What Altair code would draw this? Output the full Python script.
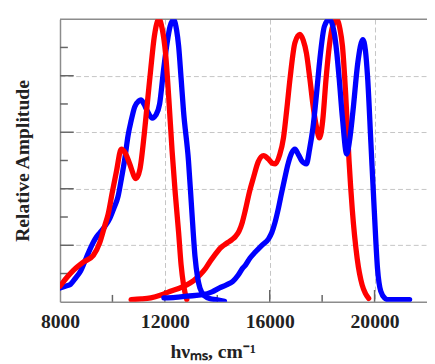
import altair as alt
import pandas as pd

# ---- data ----
red1_x = [8000, 8300, 8520, 8900, 9270, 9520, 9710, 9837, 10000, 10150, 10338, 10500, 10650, 10900,
          11050, 11213, 11350, 11462, 11600, 11775, 11900, 12025, 12150, 12275, 12400, 12525, 12620,
          12713, 12837]
red1_y = [0.055, 0.09, 0.112, 0.141, 0.164, 0.21, 0.27, 0.31, 0.39, 0.46, 0.54, 0.525, 0.49, 0.436,
          0.47, 0.593, 0.72, 0.824, 0.94, 1.0, 0.965, 0.88, 0.72, 0.535, 0.38, 0.245, 0.13,
          0.06, 0.008]

blue1_x = [8000, 8200, 8400, 8600, 8775, 9000, 9150, 9337, 9525, 9700, 9900, 10050, 10212, 10350,
           10462, 10600, 10712, 10850, 11000, 11087, 11200, 11337, 11525, 11650, 11800, 11950, 12087,
           12200, 12337, 12450, 12525, 12620, 12712, 12900, 13025, 13150, 13250, 13337, 13525, 13750,
           13962, 14275]
blue1_y = [0.049, 0.055, 0.062, 0.085, 0.107, 0.155, 0.1875, 0.222, 0.245, 0.265, 0.295, 0.33, 0.372,
           0.44, 0.5, 0.59, 0.64, 0.69, 0.71, 0.714, 0.70, 0.674, 0.65, 0.66, 0.70, 0.82, 0.917,
           0.975, 0.998, 0.96, 0.905, 0.79, 0.674, 0.5, 0.326, 0.16, 0.085, 0.049, 0.02, 0.01,
           0.008, 0.002]

red2_x = [10712, 11100, 11462, 11850, 12212, 12550, 12837, 13100, 13337, 13550, 13712, 13900, 14087,
          14250, 14400, 14560, 14700, 14830, 14950, 15075, 15230, 15387, 15560, 15762, 15950, 16100,
          16212, 16380, 16525, 16650, 16775, 16962, 17150, 17280, 17400, 17530, 17650, 17780, 17900,
          18020, 18150, 18280, 18400, 18560, 18680, 18775, 18900, 19025, 19150, 19337, 19525, 19650,
          19775]
red2_y = [0.008, 0.01, 0.014, 0.024, 0.037, 0.048, 0.06, 0.075, 0.095, 0.118, 0.141, 0.165, 0.1875,
          0.20, 0.21, 0.22, 0.232, 0.25, 0.28, 0.326, 0.39, 0.442, 0.495, 0.517, 0.505, 0.49,
          0.488, 0.52, 0.58, 0.68, 0.79, 0.917, 0.946, 0.925, 0.88, 0.79, 0.697, 0.62, 0.58,
          0.64, 0.79, 0.91, 0.975, 0.998, 0.965, 0.905, 0.73, 0.5, 0.326, 0.153, 0.06, 0.03,
          0.012]

blue2_x = [11962, 12400, 12837, 13450, 13800, 14087, 14350, 14587, 14800, 14962, 15075, 15250, 15450,
           15700, 15950, 16080, 16200, 16330, 16450, 16580, 16700, 16830, 16962, 17100, 17212, 17400,
           17520, 17650, 17780, 17900, 18087, 18275, 18462, 18560, 18650, 18775, 18937, 19060, 19175,
           19362, 19550, 19650, 19737, 19862, 19987, 20112, 20237, 20400, 20487, 21337]
blue2_y = [0.014, 0.016, 0.02, 0.025, 0.035, 0.049, 0.06, 0.072, 0.095, 0.118, 0.13, 0.155, 0.176,
           0.2, 0.222, 0.245, 0.28, 0.33, 0.384, 0.44, 0.488, 0.525, 0.54, 0.52, 0.5, 0.488,
           0.54, 0.616, 0.73, 0.847, 0.975, 1.0, 0.951, 0.88, 0.79, 0.65, 0.523, 0.58, 0.674,
           0.847, 0.928, 0.89, 0.79, 0.558, 0.326, 0.118, 0.037, 0.012, 0.008, 0.008]

x_labels = [8000, 12000, 16000, 20000]
x_major_ticks = [12000, 16000, 20000]
x_minor_ticks = [10000, 14000, 18000]
y_grid = [0.2, 0.4, 0.6, 0.8]
y_major_ticks = [0.2, 0.4, 0.6, 0.8]
y_minor_ticks = [0.1, 0.3, 0.5, 0.7, 0.9]

# ---- build tables ----
def table(xs, ys):
    return pd.DataFrame({"wn": xs, "amp": ys})

W, H = 374, 288
FONT = "Liberation Serif"
AXIS_GRAY = "#8c8c8c"

xscale = alt.Scale(domain=[8000, 22000], nice=False, zero=False)
yscale = alt.Scale(domain=[0, 1], nice=False, zero=False)

x_axis = alt.Axis(values=x_labels, format="d", title="hνₘₛ, cm⁻¹", grid=True, gridDash=[5, 3],
                  gridColor="#c4c4c4", gridWidth=1, ticks=False, tickSize=0,
                  domainColor=AXIS_GRAY, domainWidth=1.5,
                  labelFont=FONT, labelFontWeight="bold", labelFontSize=20, labelColor="#222",
                  labelPadding=10, labelFlush=False,
                  titleFont=FONT, titleFontWeight="bold", titleFontSize=20, titleColor="#222",
                  titleX=112, titleY=57, titleAlign="left", titleBaseline="alphabetic")
y_axis = alt.Axis(values=y_grid, title="Relative Amplitude", grid=True, gridDash=[5, 3],
                  gridColor="#c4c4c4", gridWidth=1, ticks=False, tickSize=0, labels=False,
                  domainColor=AXIS_GRAY, domainWidth=1.5,
                  titleFont=FONT, titleFontWeight="bold", titleFontSize=20, titleColor="#222",
                  titleX=-32, titleY=H / 2, titleAngle=270, titleAlign="center",
                  titleBaseline="alphabetic")

X = alt.X("wn:Q", scale=xscale, axis=x_axis)
Y = alt.Y("amp:Q", scale=yscale, axis=y_axis)


def curve(xs, ys, color):
    return alt.Chart(table(xs, ys)).mark_line(
        color=color, strokeWidth=5.4, strokeCap="round", strokeJoin="round",
        interpolate="monotone", clip=True
    ).encode(x=X, y=Y)


def xticks(vals, length):
    return alt.Chart(pd.DataFrame({"wn": vals})).mark_rule(
        color="#666", strokeWidth=1.5
    ).encode(x=X, y=alt.value(H), y2=alt.value(H - length))


def yticks(vals, length):
    return alt.Chart(pd.DataFrame({"amp": vals})).mark_rule(
        color="#666", strokeWidth=1.5
    ).encode(y=Y, x=alt.value(0), x2=alt.value(length))


top_border = alt.Chart(pd.DataFrame({"amp": [1.0]})).mark_rule(
    color=AXIS_GRAY, strokeWidth=1.5
).encode(y=Y, x=alt.value(0), x2=alt.value(W))

chart = alt.layer(
    xticks(x_major_ticks, 12),
    xticks(x_minor_ticks, 7),
    yticks(y_major_ticks, 14),
    yticks(y_minor_ticks, 8),
    top_border,
    curve(red2_x, red2_y, "#ff0000"),
    curve(blue1_x, blue1_y, "#0000ff"),
    curve(red1_x, red1_y, "#ff0000"),
    curve(blue2_x, blue2_y, "#0000ff"),
).properties(
    width=W, height=H,
    autosize=alt.AutoSizeParams(type="none"),
    padding={"left": 53, "top": 8, "right": 0, "bottom": 60},
).configure_view(stroke=None)

chart.save("out.html", embed_options={"renderer": "svg", "actions": False})
